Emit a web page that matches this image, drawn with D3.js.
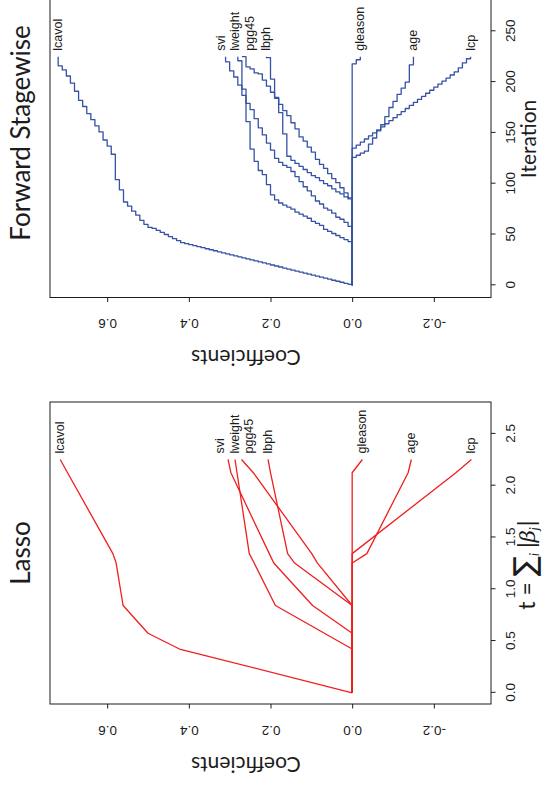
<!DOCTYPE html>
<html>
<head>
<meta charset="utf-8">
<script src="https://cdn.jsdelivr.net/npm/d3@7"></script>
<style>
  html, body { margin: 0; padding: 0; background: #ffffff; }
  svg { display: block; }
</style>
</head>
<body>
<svg id="fig" width="545" height="791"></svg>
<script>
// ---------------------------------------------------------------
// Prostate data: coefficient profiles, lasso vs forward stagewise
// ---------------------------------------------------------------
const variables = ["lcavol", "lweight", "age", "lbph", "svi", "lcp", "gleason", "pgg45"];

// Lasso path: knots of the piecewise-linear path, t = sum_j |beta_j|
const lassoT       = [0, 0.423, 0.575, 0.843, 1.253, 1.344, 2.125, 2.253];
const lassoLcavol  = [0, 0.423, 0.500, 0.561, 0.578, 0.586, 0.697, 0.715];
const lassoLweight = [0, 0, 0.068, 0.188, 0.240, 0.252, 0.282, 0.287];
const lassoAge     = [0, 0, 0, 0, 0, -0.036, -0.137, -0.145];
const lassoLbph    = [0, 0, 0, 0, 0.141, 0.158, 0.200, 0.206];
const lassoSvi     = [0, 0, 0, 0.097, 0.192, 0.203, 0.297, 0.304];
const lassoLcp     = [0, 0, 0, 0, 0, 0, -0.254, -0.292];
const lassoGleason = [0, 0, 0, 0, 0, 0, 0, -0.025];
const lassoPgg45   = [0, 0, 0, 0, 0.085, 0.099, 0.242, 0.271];

// Forward stagewise (epsilon = 0.01): iterations at which each coefficient moved
const fsEpsilon = 0.01;
const fsIterations = 225;
const fsLcavol = [1, 2, 3, 4, 5, 6, 7, 8, 9, 10, 11, 12, 13, 14, 15, 16, 17, 18, 19, 20,
  21, 22, 23, 24, 25, 26, 27, 28, 29, 30, 31, 32, 33, 34, 35, 36, 37, 38, 39, 40, 41, 42,
  44, 46, 48, 50, 52, 54, 56, 57, 60, 64, 69, 73, 78, 82, 94, 104, 129,
  137, 143, 151, 157, 163, 169, 176, 182, 191, 199, 206, 212, 216];
const fsLweight = [43, 45, 47, 49, 51, 53, 55, 59, 61, 63, 66, 68, 70, 72, 75, 77, 79, 81, 84,
  89, 99, 109, 113, 122, 134, 161, 193, 221];
const fsAge = [126, 128, 130, 132, 139, 145, 152, 158, 166, 175, 181, 188, 194, 200, 217];
const fsLbph = [85, 87, 90, 92, 95, 98, 100, 103, 106, 108, 111, 114, 117, 120, 123, 127,
  149, 170, 185, 203, 224];
const fsSvi = [58, 62, 65, 67, 71, 74, 76, 80, 83, 88, 93, 97, 102, 107, 112, 116, 118, 121, 125,
  133, 140, 148, 155, 164, 173, 179, 187, 197, 205, 211, 220];
const fsLcp = [135, 138, 141, 144, 147, 150, 153, 156, 159, 162, 165, 168, 171, 174, 177, 180,
  183, 186, 189, 192, 195, 198, 201, 204, 207, 210, 214, 219, 223];
const fsGleason = [218, 222];
const fsPgg45 = [86, 91, 96, 101, 105, 110, 115, 119, 124, 131, 136, 142, 146, 154, 160, 167,
  172, 178, 184, 190, 196, 202, 208, 209, 213, 215, 225];
// direction of each variable's steps, in the order of `variables`
const fsDirection = [1, 1, -1, 1, 1, -1, -1, 1];

// axis ticks
const coefTicks = [-0.2, 0.0, 0.2, 0.4, 0.6];
const tTicks = [0.0, 0.5, 1.0, 1.5, 2.0, 2.5];
const iterTicks = [0, 50, 100, 150, 200, 250];

// ---------------------------------------------------------------
const lassoValues = [lassoLcavol, lassoLweight, lassoAge, lassoLbph, lassoSvi, lassoLcp, lassoGleason, lassoPgg45];
const fsSteps = [fsLcavol, fsLweight, fsAge, fsLbph, fsSvi, fsLcp, fsGleason, fsPgg45];

const lassoSeries = variables.map((name, i) => ({
  name,
  points: lassoT.map((t, k) => [t, lassoValues[i][k]])
}));

const fsSeries = variables.map((name, i) => {
  const sgn = fsDirection[i];
  const pts = [[0, 0]];
  fsSteps[i].forEach((it, k) => pts.push([it, sgn * (k + 1) * fsEpsilon]));
  pts.push([fsIterations, sgn * fsSteps[i].length * fsEpsilon]);
  return { name, points: pts };
});

// The page is laid out in landscape (791 x 545) and turned a quarter turn.
const PAGE_W = 791;
const svg = d3.select("#fig");
const page = svg.append("g").attr("transform", `translate(0,${PAGE_W}) rotate(-90)`);

const LABEL_FONT = "'Liberation Sans', Arial, Helvetica, sans-serif";
const TITLE_FONT = "Lato, 'Open Sans', sans-serif";
const INK = "#1c1c1c";

// shared coefficient scale (vertical in page coordinates)
const yC = d3.scaleLinear().domain([-0.34, 0.74]).range([491, 50]);

// spread end labels so that neighbouring names do not collide
function spreadLabels(items, gap) {
  const sorted = items.slice().sort((a, b) => a.pos - b.pos);
  let clusters = sorted.map(d => ({ members: [d], center: d.pos }));
  let merged = true;
  while (merged) {
    merged = false;
    for (let i = 0; i < clusters.length - 1; i++) {
      const a = clusters[i], b = clusters[i + 1];
      const aEnd = a.center + (a.members.length - 1) * gap / 2;
      const bStart = b.center - (b.members.length - 1) * gap / 2;
      if (bStart - aEnd < gap) {
        const members = a.members.concat(b.members);
        clusters.splice(i, 2, { members, center: d3.mean(members, m => m.pos) });
        merged = true;
        break;
      }
    }
  }
  clusters.forEach(c => c.members.forEach((m, k) => {
    m.labelPos = c.center + (k - (c.members.length - 1) / 2) * gap;
  }));
  return sorted;
}

function drawPanel(opts) {
  const { x, series, curve, color, ticks, tickFormat, title, xLabel } = opts;
  const [x0, x1] = x.range();
  const g = page.append("g");

  const line = d3.line().x(d => x(d[0])).y(d => yC(d[1])).curve(curve);

  g.append("g").selectAll("path")
    .data(series)
    .join("path")
    .attr("d", d => line(d.points))
    .attr("fill", "none")
    .attr("stroke", color)
    .attr("stroke-width", 1.3)
    .attr("stroke-linejoin", "round");

  // variable names at the right-hand ends
  const ends = series.map(s => {
    const last = s.points[s.points.length - 1];
    return { name: s.name, xEnd: x(last[0]), pos: yC(last[1]) };
  });
  spreadLabels(ends, 14.5);
  g.append("g").selectAll("text")
    .data(ends)
    .join("text")
    .attr("x", d => d.xEnd + 6)
    .attr("y", d => d.labelPos)
    .attr("dominant-baseline", "central")
    .style("font-family", LABEL_FONT)
    .style("font-size", "12.5px")
    .attr("fill", INK)
    .text(d => d.name);

  // box
  g.append("rect")
    .attr("x", x0).attr("y", 50)
    .attr("width", x1 - x0).attr("height", 441)
    .attr("fill", "none").attr("stroke", INK).attr("stroke-width", 1);

  // bottom axis
  const ax = g.append("g")
    .attr("transform", "translate(0,491)")
    .call(d3.axisBottom(x).tickValues(ticks).tickFormat(tickFormat).tickSize(4.5).tickPadding(0));
  ax.select(".domain").remove();
  ax.selectAll("line").attr("stroke", INK);
  ax.selectAll("text")
    .attr("y", 19).attr("dy", "0.35em")
    .attr("fill", INK)
    .style("font-family", LABEL_FONT).style("font-size", "13.5px");

  // left axis, labels parallel to the axis
  const ay = g.append("g")
    .attr("transform", `translate(${x0},0)`)
    .call(d3.axisLeft(yC).tickValues(coefTicks).tickFormat(d => d.toFixed(1)).tickSize(4.5));
  ay.select(".domain").remove();
  ay.selectAll("line").attr("stroke", INK);
  ay.selectAll("text")
    .attr("x", null).attr("dy", null)
    .attr("transform", "translate(-26,0) rotate(-90)")
    .attr("text-anchor", "middle")
    .attr("dominant-baseline", "central")
    .attr("fill", INK)
    .style("font-family", LABEL_FONT).style("font-size", "13.5px");

  const cx = (x0 + x1) / 2;
  g.append("text")
    .attr("x", cx).attr("y", 30)
    .attr("text-anchor", "middle")
    .style("font-family", TITLE_FONT).style("font-size", "26px")
    .attr("fill", INK)
    .text(title);

  g.append("text")
    .attr("transform", `translate(${x0 - 61},${yC(0.26)}) rotate(-90)`)
    .attr("text-anchor", "middle")
    .attr("dominant-baseline", "central")
    .style("font-family", TITLE_FONT).style("font-size", "21px")
    .attr("fill", INK)
    .text("Coefficients");

  xLabel(g, cx);
}

// Lasso panel
const xLasso = d3.scaleLinear().domain([-0.108, 2.808]).range([87, 389]);
drawPanel({
  x: xLasso,
  series: lassoSeries,
  curve: d3.curveLinear,
  color: "#f01e1e",
  ticks: tTicks,
  tickFormat: d => d.toFixed(1),
  title: "Lasso",
  xLabel: (g, cx) => {
    const t = g.append("text")
      .attr("x", cx - 12).attr("y", 535)
      .attr("text-anchor", "middle")
      .style("font-family", TITLE_FONT).style("font-size", "23px")
      .attr("fill", INK);
    t.append("tspan").text("t = ");
    t.append("tspan").style("font-family", "'DejaVu Sans', sans-serif").style("font-size", "30px").text("\u2211");
    t.append("tspan").attr("dy", 4).style("font-size", "13px").style("font-style", "italic").text("i");
    t.append("tspan").attr("dy", -4).attr("dx", 5).style("font-size", "23px").text("|");
    t.append("tspan").style("font-family", "'DejaVu Serif', serif").style("font-style", "italic").style("font-size", "21px").text("\u03B2");
    t.append("tspan").attr("dy", 4).style("font-size", "13px").style("font-style", "italic").text("j");
    t.append("tspan").attr("dy", -4).attr("dx", 1).style("font-size", "23px").text("|");
  }
});

// Forward stagewise panel
const xStage = d3.scaleLinear().domain([-12, 312]).range([493.5, 822.7]);
drawPanel({
  x: xStage,
  series: fsSeries,
  curve: d3.curveStepAfter,
  color: "#3552a5",
  ticks: iterTicks,
  tickFormat: d3.format("d"),
  title: "Forward Stagewise",
  xLabel: (g, cx) => {
    g.append("text")
      .attr("x", cx - 6).attr("y", 536)
      .attr("text-anchor", "middle")
      .style("font-family", TITLE_FONT).style("font-size", "21px")
      .attr("fill", INK)
      .text("Iteration");
  }
});
</script>
</body>
</html>
